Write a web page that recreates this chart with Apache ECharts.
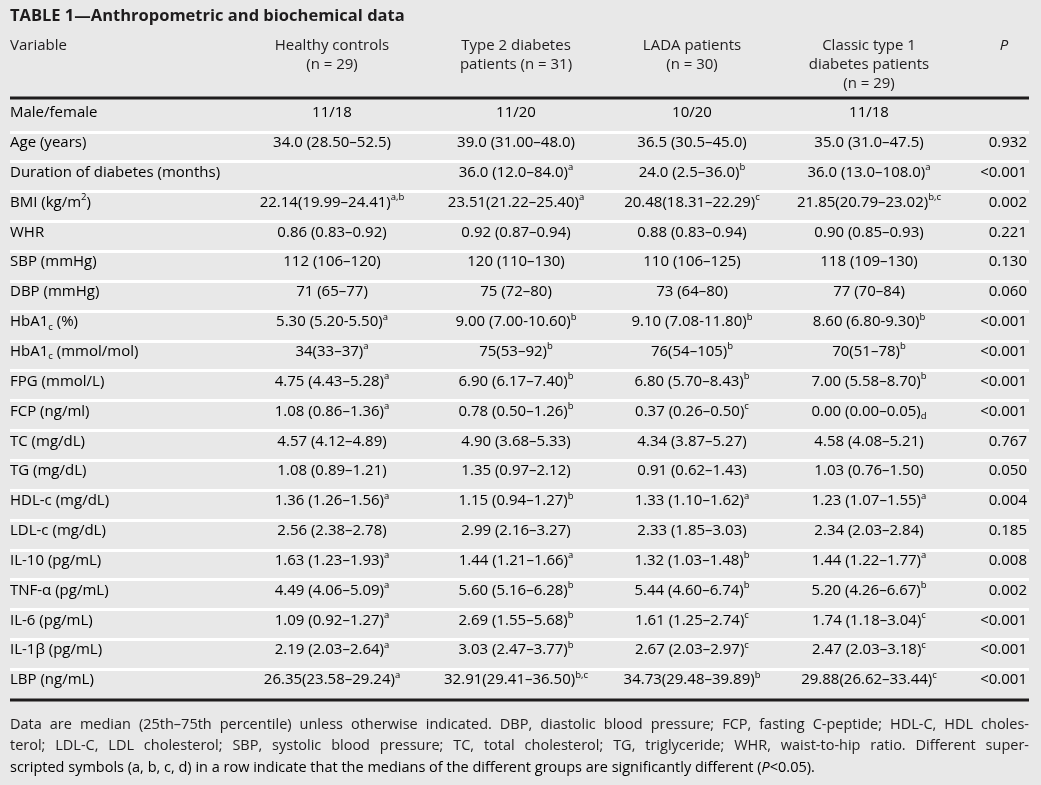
<!DOCTYPE html>
<html>
<head>
<meta charset="utf-8">
<script src="https://cdn.jsdelivr.net/npm/echarts@6/dist/echarts.min.js"></script>
<style>
  html, body { margin: 0; padding: 0; background: #e8e8e8; }
  #main { width: 1041px; height: 785px; }
</style>
</head>
<body>
<div id="main"></div>
<script>
// table content. ^{x} = superscript, _{x} = subscript, *{x} = italic
var title = 'TABLE 1\u2014Anthropometric and biochemical data';
var headVariable = 'Variable';
var headGroups = [
  ['Healthy controls', '(n = 29)'],
  ['Type 2 diabetes', 'patients (n = 31)'],
  ['LADA patients', '(n = 30)'],
  ['Classic type 1', 'diabetes patients', '(n = 29)']
];
var headP = 'P';

var variables = [
  'Male/female', 'Age (years)', 'Duration of diabetes (months)', 'BMI (kg/m^{2})', 'WHR',
  'SBP (mmHg)', 'DBP (mmHg)', 'HbA1_{c} (%)', 'HbA1_{c} (mmol/mol)', 'FPG (mmol/L)',
  'FCP (ng/ml)', 'TC (mg/dL)', 'TG (mg/dL)', 'HDL-c (mg/dL)', 'LDL-c (mg/dL)',
  'IL-10 (pg/mL)', 'TNF-\u03b1 (pg/mL)', 'IL-6 (pg/mL)', 'IL-1\u03b2 (pg/mL)', 'LBP (ng/mL)'
];
var healthy = [
  '11/18', '34.0 (28.50\u201352.5)', '', '22.14(19.99\u201324.41)^{a,b}', '0.86 (0.83\u20130.92)',
  '112 (106\u2013120)', '71 (65\u201377)', '5.30 (5.20-5.50)^{a}', '34(33\u201337)^{a}', '4.75 (4.43\u20135.28)^{a}',
  '1.08 (0.86\u20131.36)^{a}', '4.57 (4.12\u20134.89)', '1.08 (0.89\u20131.21)', '1.36 (1.26\u20131.56)^{a}', '2.56 (2.38\u20132.78)',
  '1.63 (1.23\u20131.93)^{a}', '4.49 (4.06\u20135.09)^{a}', '1.09 (0.92\u20131.27)^{a}', '2.19 (2.03\u20132.64)^{a}', '26.35(23.58\u201329.24)^{a}'
];
var type2 = [
  '11/20', '39.0 (31.00\u201348.0)', '36.0 (12.0\u201384.0)^{a}', '23.51(21.22\u201325.40)^{a}', '0.92 (0.87\u20130.94)',
  '120 (110\u2013130)', '75 (72\u201380)', '9.00 (7.00-10.60)^{b}', '75(53\u201392)^{b}', '6.90 (6.17\u20137.40)^{b}',
  '0.78 (0.50\u20131.26)^{b}', '4.90 (3.68\u20135.33)', '1.35 (0.97\u20132.12)', '1.15 (0.94\u20131.27)^{b}', '2.99 (2.16\u20133.27)',
  '1.44 (1.21\u20131.66)^{a}', '5.60 (5.16\u20136.28)^{b}', '2.69 (1.55\u20135.68)^{b}', '3.03 (2.47\u20133.77)^{b}', '32.91(29.41\u201336.50)^{b,c}'
];
var lada = [
  '10/20', '36.5 (30.5\u201345.0)', '24.0 (2.5\u201336.0)^{b}', '20.48(18.31\u201322.29)^{c}', '0.88 (0.83\u20130.94)',
  '110 (106\u2013125)', '73 (64\u201380)', '9.10 (7.08-11.80)^{b}', '76(54\u2013105)^{b}', '6.80 (5.70\u20138.43)^{b}',
  '0.37 (0.26\u20130.50)^{c}', '4.34 (3.87\u20135.27)', '0.91 (0.62\u20131.43)', '1.33 (1.10\u20131.62)^{a}', '2.33 (1.85\u20133.03)',
  '1.32 (1.03\u20131.48)^{b}', '5.44 (4.60\u20136.74)^{b}', '1.61 (1.25\u20132.74)^{c}', '2.67 (2.03\u20132.97)^{c}', '34.73(29.48\u201339.89)^{b}'
];
var classic1 = [
  '11/18', '35.0 (31.0\u201347.5)', '36.0 (13.0\u2013108.0)^{a}', '21.85(20.79\u201323.02)^{b,c}', '0.90 (0.85\u20130.93)',
  '118 (109\u2013130)', '77 (70\u201384)', '8.60 (6.80-9.30)^{b}', '70(51\u201378)^{b}', '7.00 (5.58\u20138.70)^{b}',
  '0.00 (0.00\u20130.05)_{d}', '4.58 (4.08\u20135.21)', '1.03 (0.76\u20131.50)', '1.23 (1.07\u20131.55)^{a}', '2.34 (2.03\u20132.84)',
  '1.44 (1.22\u20131.77)^{a}', '5.20 (4.26\u20136.67)^{b}', '1.74 (1.18\u20133.04)^{c}', '2.47 (2.03\u20133.18)^{c}', '29.88(26.62\u201333.44)^{c}'
];
var pValues = [
  '', '0.932', '<0.001', '0.002', '0.221', '0.130', '0.060', '<0.001', '<0.001', '<0.001',
  '<0.001', '0.767', '0.050', '0.004', '0.185', '0.008', '0.002', '<0.001', '<0.001', '<0.001'
];
var footnote = [
  'Data are median (25th\u201375th percentile) unless otherwise indicated. DBP, diastolic blood pressure; FCP, fasting C-peptide; HDL-C, HDL choles-',
  'terol; LDL-C, LDL cholesterol; SBP, systolic blood pressure; TC, total cholesterol; TG, triglyceride; WHR, waist-to-hip ratio. Different super-',
  'scripted symbols (a, b, c, d) in a row indicate that the medians of the different groups are significantly different (*{P}<0.05).'
];

// layout
var FONT = '"Open Sans", "Noto Sans", sans-serif';
var INK = '#1e1c1d';
var BG = '#e8e8e8';
var LEFT = 10, RIGHT = 1029;
var colX = [10, 332, 516, 692, 869, 1027];
var colAlign = ['left', 'center', 'center', 'center', 'center', 'right'];
var bodySize = 15;
var textShift = -4;

var rich = {
  n: { fontFamily: FONT, fontSize: bodySize, color: INK, lineHeight: 20 },
  i: { fontFamily: FONT, fontSize: bodySize, color: INK, fontStyle: 'italic', lineHeight: 20 },
  sup: { fontFamily: FONT, fontSize: 9.5, color: INK, verticalAlign: 'top' },
  sub: { fontFamily: FONT, fontSize: 9.5, color: INK, verticalAlign: 'bottom' }
};

function toRich(s, base) {
  base = base || 'n';
  var out = '';
  var re = /([\^_*])\{([^}]*)\}/g, last = 0, m;
  while ((m = re.exec(s)) !== null) {
    if (m.index > last) out += '{' + base + '|' + s.slice(last, m.index) + '}';
    var st = m[1] === '^' ? 'sup' : (m[1] === '_' ? 'sub' : 'i');
    out += '{' + st + '|' + m[2] + '}';
    last = re.lastIndex;
  }
  if (last < s.length) out += '{' + base + '|' + s.slice(last) + '}';
  return out;
}

// cells for custom series
var columns = [variables, healthy, type2, lada, classic1, pValues];
var cellData = [], cellText = [];
columns.forEach(function (col, c) {
  col.forEach(function (v, r) {
    if (!v) return;
    cellData.push([colX[c], r, c]);
    cellText.push(toRich(v));
  });
});

var chart = echarts.init(document.getElementById('main'), null, { renderer: 'canvas' });

var graphics = [];
// title
graphics.push({
  type: 'text', x: LEFT, y: 16, z: 100,
  style: { text: title, font: 'bold 16.5px ' + FONT, fill: INK, align: 'left', verticalAlign: 'middle' }
});
// header
var headY = [46, 65, 84];
graphics.push({
  type: 'text', x: colX[0], y: headY[0], z: 100,
  style: { text: headVariable, font: bodySize + 'px ' + FONT, fill: INK, align: 'left', verticalAlign: 'middle' }
});
headGroups.forEach(function (lines, g) {
  lines.forEach(function (t, k) {
    graphics.push({
      type: 'text', x: colX[g + 1], y: headY[k], z: 100,
      style: { text: t, font: bodySize + 'px ' + FONT, fill: INK, align: 'center', verticalAlign: 'middle' }
    });
  });
});
graphics.push({
  type: 'text', x: 1004, y: headY[0], z: 100,
  style: { text: headP, font: 'italic ' + bodySize + 'px ' + FONT, fill: INK, align: 'center', verticalAlign: 'middle' }
});
// rules
[98, 700].forEach(function (y) {
  graphics.push({
    type: 'line', z: 100,
    shape: { x1: LEFT, y1: y, x2: RIGHT, y2: y },
    style: { stroke: INK, lineWidth: 3 }
  });
});
// footnote, first lines justified
var noteSize = 14.5;
var noteFont = noteSize + 'px ' + FONT;
var noteY = [725, 746, 768];
var ctx = document.createElement('canvas').getContext('2d');
ctx.font = noteFont;
footnote.forEach(function (line, k) {
  if (k === footnote.length - 1) {
    graphics.push({
      type: 'text', x: LEFT, y: noteY[k], z: 100,
      style: {
        text: toRich(line), align: 'left', verticalAlign: 'middle',
        rich: {
          n: { fontFamily: FONT, fontSize: noteSize, color: INK },
          i: { fontFamily: FONT, fontSize: noteSize, color: INK, fontStyle: 'italic' }
        }
      }
    });
    return;
  }
  var words = line.split(' ');
  var widths = words.map(function (w) { return ctx.measureText(w).width; });
  var total = widths.reduce(function (a, b) { return a + b; }, 0);
  var gap = Math.max(2, (RIGHT - LEFT - total) / (words.length - 1));
  var x = LEFT;
  words.forEach(function (w, j) {
    graphics.push({
      type: 'text', x: x, y: noteY[k], z: 100,
      style: { text: w, font: noteFont, fill: INK, align: 'left', verticalAlign: 'middle' }
    });
    x += widths[j] + gap;
  });
});

var option = {
  backgroundColor: BG,
  animation: false,
  grid: { left: LEFT, right: 1041 - RIGHT, top: 102, height: 597 },
  xAxis: {
    type: 'value', min: LEFT, max: RIGHT,
    show: false
  },
  yAxis: {
    type: 'category', data: variables, inverse: true,
    axisLine: { show: false }, axisTick: { show: false }, axisLabel: { show: false },
    splitLine: { show: true, showMinLine: false, showMaxLine: false, lineStyle: { color: '#ffffff', width: 3 } }
  },
  graphic: graphics,
  series: [{
    type: 'custom',
    coordinateSystem: 'cartesian2d',
    data: cellData,
    encode: { x: 0, y: 1 },
    renderItem: function (params, api) {
      var c = api.value(2);
      var p = api.coord([api.value(0), api.value(1)]);
      return {
        type: 'text',
        x: p[0], y: p[1] + textShift,
        style: {
          text: cellText[params.dataIndex],
          rich: rich,
          align: colAlign[c],
          verticalAlign: 'middle'
        }
      };
    }
  }]
};

chart.setOption(option);
</script>
</body>
</html>
